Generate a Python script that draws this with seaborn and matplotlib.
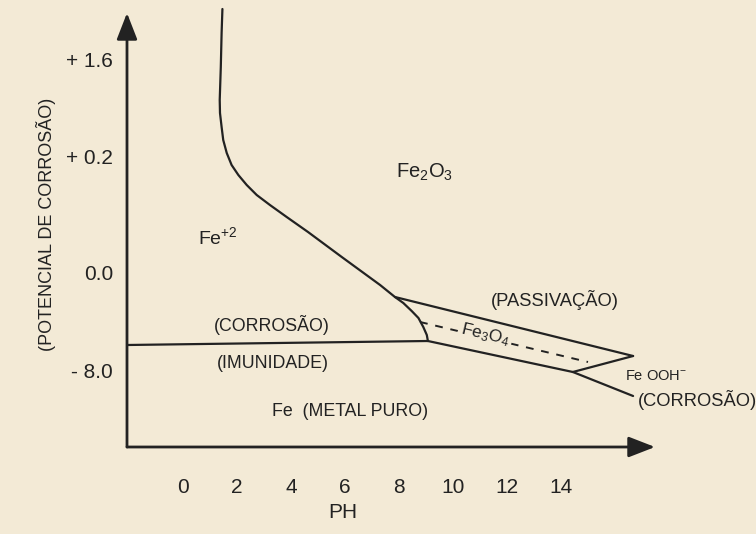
import numpy as np
import pandas as pd
import matplotlib
matplotlib.use("Agg")
import matplotlib.pyplot as plt
import seaborn as sns

# ---- data (pH, potential in plot units) ----
curve_ph = [1.46, 1.43, 1.40, 1.36, 1.37, 1.43, 1.49, 1.62, 1.80, 2.05, 2.36, 2.73, 3.22, 3.84, 4.63,
            5.88, 7.30, 7.85, 8.16, 8.47, 8.72, 8.90, 9.03, 9.07]
curve_u = [4.38, 4.14, 3.80, 3.47, 3.34, 3.20, 3.07, 2.94, 2.82, 2.72, 2.62, 2.52, 2.42, 2.30, 2.15,
           1.90, 1.62, 1.50, 1.44, 1.36, 1.29, 1.20, 1.12, 1.06]

immunity_ph = [-2.07, 9.07]
immunity_u = [1.02, 1.06]

passiv_top_ph = [7.85, 16.67]
passiv_top_u = [1.50, 0.91]

fe3o4_low_ph = [9.07, 14.44]
fe3o4_low_u = [1.06, 0.75]

corr_right_ph = [14.44, 16.67]
corr_right_u = [0.75, 0.51]

hfeo2_ph = [14.44, 16.67]
hfeo2_u = [0.75, 0.91]

dashed_ph = [8.78, 15.0]
dashed_u = [1.25, 0.85]

xtick_vals = [0, 2, 4, 6, 8, 10, 12, 14]
ytick_pos = [3.87, 2.90, 1.75, 0.77]
ytick_labels = ["+ 1.6", "+ 0.2", "0.0", "- 8.0"]

BG = "#f3ead6"
INK = "#222222"

sns.set_theme(style="white")
plt.rcParams["font.family"] = ["Liberation Sans", "DejaVu Sans"]
plt.rcParams["mathtext.fontset"] = "custom"
plt.rcParams["mathtext.rm"] = "Liberation Sans"
plt.rcParams["mathtext.it"] = "Liberation Sans"
plt.rcParams["mathtext.default"] = "rm"

W, H = 756, 534
fig = plt.figure(figsize=(W / 100, H / 100), dpi=100, facecolor=BG)
ax = fig.add_axes([127 / W, (H - 447) / H, 1 - 127 / W, 447 / H])
ax.set_facecolor(BG)

ax.set_xlim((127 - 183) / 27, (756 - 183) / 27)
ax.set_ylim(0, 4.47)
for s in ax.spines.values():
    s.set_visible(False)

lw = 1.6
def line(xs, ys, **kw):
    df = pd.DataFrame({"x": xs, "y": ys})
    sns.lineplot(data=df, x="x", y="y", sort=False, estimator=None, ax=ax,
                 color=INK, lw=kw.pop("lw", lw), **kw)

line(curve_ph, curve_u)
line(immunity_ph, immunity_u)
line(passiv_top_ph, passiv_top_u)
line(fe3o4_low_ph, fe3o4_low_u)
line(corr_right_ph, corr_right_u)
line(hfeo2_ph, hfeo2_u)
line(dashed_ph, dashed_u, linestyle=(0, (4, 4)), lw=1.4)

# axes arrows
x0 = ax.get_xlim()[0]
arrow_kw = dict(arrowstyle="-|>,head_length=0.9,head_width=0.35",
                mutation_scale=18, lw=2.0, color=INK, shrinkA=0, shrinkB=0)
ax.annotate("", xy=(x0, 4.34), xytext=(x0, 0), xycoords="data",
            arrowprops=arrow_kw, annotation_clip=False)
ax.annotate("", xy=((655 - 183) / 27, 0), xytext=(x0, 0), xycoords="data",
            arrowprops=arrow_kw, annotation_clip=False)

ax.set_xticks(xtick_vals)
ax.set_xticklabels([str(v) for v in xtick_vals])
ax.set_yticks(ytick_pos)
ax.set_yticklabels(ytick_labels)
ax.tick_params(axis="x", length=0, pad=22, labelsize=15, labelcolor=INK)
ax.tick_params(axis="y", length=0, pad=10, labelsize=15, labelcolor=INK)
ax.set_xlabel("")
ax.set_ylabel("")

ax.text(5.93, -0.66, "PH", ha="center", va="center", fontsize=15, color=INK, clip_on=False)
ax.text((46 - 183) / 27, 2.23, "(POTENCIAL DE CORROSÃO)", rotation=90, ha="center",
        va="center", fontsize=13, color=INK, clip_on=False)

fs = 12.8
ax.text(1.30, 2.10, r"Fe$^{+2}$", ha="center", va="center", fontsize=14, color=INK)
ax.text(8.96, 2.75, r"Fe$_{2}$O$_{3}$", ha="center", va="center", fontsize=14.5, color=INK)
ax.text(13.78, 1.47, "(PASSIVAÇÃO)", ha="center", va="center", fontsize=13.2, color=INK)
ax.text(3.30, 1.22, "(CORROSÃO)", ha="center", va="center", fontsize=fs, color=INK)
ax.text(3.33, 0.84, "(IMUNIDADE)", ha="center", va="center", fontsize=fs, color=INK)
ax.text(6.19, 0.35, "Fe  (METAL PURO)", ha="center", va="center", fontsize=fs, color=INK)
ax.text(16.37, 0.71, r"Fe OOH$^{-}$", ha="left", va="center", fontsize=10.5, color=INK)
ax.text(16.85, 0.47, "(CORROSÃO)", ha="left", va="center", fontsize=13.2, color=INK, clip_on=False)
ax.text(11.19, 1.12, r"Fe$_{3}$O$_{4}$", ha="center", va="center", fontsize=12.5, color=INK,
        rotation=-13.4, rotation_mode="anchor",
        bbox=dict(boxstyle="square,pad=0.15", facecolor=BG, edgecolor="none"))

fig.savefig("out.png", dpi=100, facecolor=BG)
